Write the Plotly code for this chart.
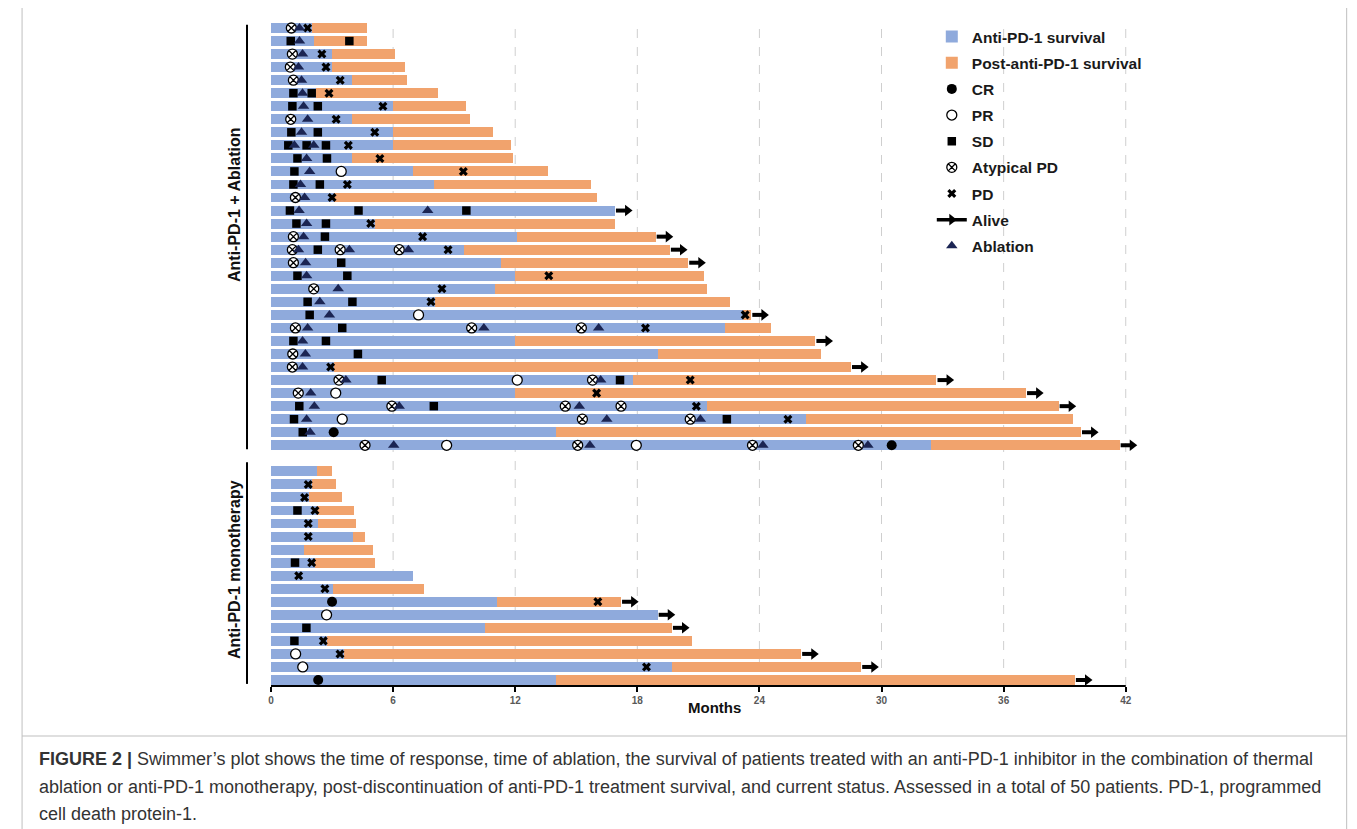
import plotly.graph_objects as go

# ---------------- data ----------------
# Anti-PD-1 + Ablation group (A1..A33, top to bottom)
anti_a = [2.0, 2.1, 3.0, 3.0, 4.0, 2.2, 6.0, 4.0, 6.0, 6.0, 4.0, 7.0, 8.0, 3.1, 16.9, 5.1, 12.1,
          9.5, 11.3, 12.0, 11.0, 8.05, 23.2, 22.3, 12.0, 19.0, 3.1, 17.8, 12.0, 21.4, 26.3, 14.0, 32.45]
total_a = [4.7, 4.7, 6.1, 6.6, 6.7, 8.2, 9.6, 9.8, 10.9, 11.8, 11.9, 13.6, 15.7, 16.0, 16.9, 16.9, 18.9,
           19.6, 20.5, 21.3, 21.4, 22.55, 23.6, 24.55, 26.75, 27.05, 28.5, 32.7, 37.1, 38.7, 39.4, 39.8, 41.7]
alive_a = [0, 0, 0, 0, 0, 0, 0, 0, 0, 0, 0, 0, 0, 0, 1, 0, 1,
           1, 1, 0, 0, 0, 1, 0, 1, 0, 1, 1, 1, 1, 0, 1, 1]

# Anti-PD-1 monotherapy group (M1..M17, top to bottom)
anti_m = [2.24, 2.03, 1.85, 2.27, 2.3, 4.03, 1.62, 2.16, 7.0, 3.03, 11.1, 19.0, 10.5, 2.74, 3.59, 19.7, 14.0]
total_m = [3.0, 3.2, 3.5, 4.1, 4.2, 4.6, 5.0, 5.1, 7.0, 7.5, 17.2, 19.0, 19.7, 20.7, 26.05, 29.0, 39.5]
alive_m = [0, 0, 0, 0, 0, 0, 0, 0, 0, 0, 1, 1, 1, 0, 1, 1, 1]

# events: (patient, month)
CR = [("A32", 3.08), ("A33", 30.5), ("M11", 3.0), ("M17", 2.32)]
PR = [("A12", 3.45), ("A23", 7.25), ("A28", 12.1), ("A29", 3.18), ("A31", 3.5), ("A33", 8.63),
      ("A33", 17.95), ("M12", 2.73), ("M15", 1.21), ("M16", 1.56)]
SD = [("A2", 0.97), ("A2", 3.85), ("A6", 1.1), ("A6", 2.0), ("A7", 1.05), ("A7", 2.3), ("A9", 1.0),
      ("A9", 2.3), ("A10", 0.85), ("A10", 1.75), ("A10", 2.7), ("A11", 1.3), ("A11", 2.75), ("A12", 1.15),
      ("A13", 1.1), ("A13", 2.4), ("A15", 0.93), ("A15", 4.3), ("A15", 9.6), ("A16", 1.25), ("A16", 2.7),
      ("A17", 2.65), ("A18", 2.3), ("A19", 3.45), ("A20", 1.3), ("A20", 3.75), ("A22", 1.8), ("A22", 4.0),
      ("A23", 1.9), ("A24", 3.5), ("A25", 1.1), ("A25", 2.7), ("A26", 4.27), ("A28", 5.44), ("A28", 17.15),
      ("A30", 1.39), ("A30", 8.0), ("A31", 1.13), ("A31", 22.4), ("A32", 1.56),
      ("M4", 1.3), ("M8", 1.18), ("M13", 1.74), ("M14", 1.15)]
ATYP = [("A1", 1.0), ("A3", 1.05), ("A4", 0.95), ("A5", 1.1), ("A8", 0.97), ("A14", 1.2), ("A17", 1.1),
        ("A18", 1.05), ("A18", 3.4), ("A18", 6.3), ("A19", 1.1), ("A21", 2.1), ("A24", 1.2), ("A24", 9.86),
        ("A24", 15.25), ("A26", 1.07), ("A27", 1.05), ("A28", 3.34), ("A28", 15.8), ("A29", 1.34),
        ("A30", 5.94), ("A30", 14.46), ("A30", 17.2), ("A31", 15.3), ("A31", 20.6), ("A33", 4.62),
        ("A33", 15.07), ("A33", 23.66), ("A33", 28.86)]
PD = [("A1", 1.8), ("A3", 2.5), ("A4", 2.7), ("A5", 3.4), ("A6", 2.85), ("A7", 5.5), ("A8", 3.2),
      ("A9", 5.1), ("A10", 3.8), ("A11", 5.35), ("A12", 9.45), ("A13", 3.75), ("A14", 3.0), ("A16", 4.9),
      ("A17", 7.45), ("A18", 8.7), ("A20", 13.65), ("A21", 8.4), ("A22", 7.86), ("A23", 23.3),
      ("A24", 18.4), ("A27", 2.93), ("A28", 20.6), ("A29", 16.0), ("A30", 20.9), ("A31", 25.4),
      ("M2", 1.83), ("M3", 1.65), ("M4", 2.16), ("M5", 1.83), ("M6", 1.83), ("M8", 2.0), ("M9", 1.36),
      ("M10", 2.65), ("M11", 16.06), ("M14", 2.57), ("M15", 3.39), ("M16", 18.45)]
ABL = [("A1", 1.4), ("A2", 1.4), ("A3", 1.55), ("A4", 1.35), ("A5", 1.5), ("A6", 1.55), ("A7", 1.6),
       ("A8", 1.8), ("A9", 1.5), ("A10", 1.15), ("A10", 2.1), ("A11", 1.75), ("A12", 1.9), ("A13", 1.45),
       ("A14", 1.65), ("A15", 1.38), ("A15", 7.7), ("A16", 1.75), ("A17", 1.6), ("A18", 1.35), ("A18", 3.85),
       ("A18", 6.75), ("A19", 1.7), ("A20", 1.75), ("A21", 3.3), ("A22", 2.4), ("A23", 2.87), ("A24", 1.8),
       ("A24", 10.46), ("A24", 16.1), ("A25", 1.55), ("A26", 1.69), ("A27", 1.55), ("A28", 3.68),
       ("A28", 16.2), ("A29", 1.95), ("A30", 2.13), ("A30", 6.3), ("A30", 15.15), ("A31", 1.75),
       ("A31", 16.5), ("A31", 21.1), ("A32", 1.92), ("A33", 6.03), ("A33", 15.67), ("A33", 24.17),
       ("A33", 29.33)]

X_TICKS = [0, 6, 12, 18, 24, 30, 36, 42]
GROUP_LABELS = ["Anti-PD-1 + Ablation", "Anti-PD-1 monotherapy"]
CAPTION = [
    "<b>FIGURE 2 |</b> Swimmer\u2019s plot shows the time of response, time of ablation, the survival of patients treated with an anti-PD-1 inhibitor in the combination of thermal",
    "ablation or anti-PD-1 monotherapy, post-discontinuation of anti-PD-1 treatment survival, and current status. Assessed in a total of 50 patients. PD-1, programmed",
    "cell death protein-1.",
]

# ---------------- layout helpers ----------------
ids_a = [f"A{i+1}" for i in range(len(anti_a))]
ids_m = [f"M{i+1}" for i in range(len(anti_m))]
ypos = {}
for i, p in enumerate(ids_a):
    ypos[p] = i + 1
for i, p in enumerate(ids_m):
    ypos[p] = len(ids_a) + 2 + i  # one empty slot between groups

ids = ids_a + ids_m
anti = anti_a + anti_m
total = total_a + total_m
alive = alive_a + alive_m
ys = [ypos[p] for p in ids]

BLUE = "#8FAADC"
ORANGE = "#F1A36D"
NAVY = "#1B2553"
FONT = "Liberation Sans, Arial, sans-serif"
XMAX = X_TICKS[-1]
XPAD = 0.75  # room right of 42 so the last "alive" arrow is not clipped

fig = go.Figure()

fig.add_trace(go.Bar(orientation="h", y=ys, x=anti, base=[0] * len(anti), width=0.76,
                     marker=dict(color=BLUE, line=dict(width=0)), name="Anti-PD-1 survival",
                     legendgroup="a", legendrank=1))
fig.add_trace(go.Bar(orientation="h", y=ys, x=[t - a for t, a in zip(total, anti)], base=anti, width=0.76,
                     marker=dict(color=ORANGE, line=dict(width=0)), name="Post-anti-PD-1 survival",
                     legendgroup="b", legendrank=2))


def pts(ev):
    return [m for _, m in ev], [ypos[p] for p, _ in ev]


# Alive arrows
sx, sy, hx, hy = [], [], [], []
for y, t, al in zip(ys, total, alive):
    if al:
        sx += [t + 0.05, t + 0.55, None]
        sy += [y, y, None]
        hx.append(t + 0.62)
        hy.append(y)
fig.add_trace(go.Scatter(x=sx, y=sy, mode="lines", line=dict(color="black", width=4),
                         showlegend=False, hoverinfo="skip", cliponaxis=False))
fig.add_trace(go.Scatter(x=hx, y=hy, mode="markers", marker=dict(symbol="triangle-right", size=10, color="black"),
                         showlegend=False, hoverinfo="skip", cliponaxis=False))

x, y = pts(ATYP)
fig.add_trace(go.Scatter(x=x, y=y, mode="markers", name="Atypical PD", legendgroup="f", legendrank=6,
                         marker=dict(symbol="circle-x", size=10, color="white", line=dict(color="black", width=1.3))))
x, y = pts(PR)
fig.add_trace(go.Scatter(x=x, y=y, mode="markers", name="PR", legendgroup="d", legendrank=4,
                         marker=dict(symbol="circle", size=10, color="white", line=dict(color="black", width=1.3))))
x, y = pts(CR)
fig.add_trace(go.Scatter(x=x, y=y, mode="markers", name="CR", legendgroup="c", legendrank=3,
                         marker=dict(symbol="circle", size=10, color="black", line=dict(width=0))))
x, y = pts(SD)
fig.add_trace(go.Scatter(x=x, y=y, mode="markers", name="SD", legendgroup="e", legendrank=5,
                         marker=dict(symbol="square", size=8.5, color="black", line=dict(width=0))))
x, y = pts(PD)
fig.add_trace(go.Scatter(x=x, y=y, mode="markers", name="PD", legendgroup="g", legendrank=7,
                         marker=dict(symbol="x", size=8, color="black", line=dict(width=0))))
fig.add_trace(go.Scatter(x=[None], y=[None], mode="lines+markers", name="Alive", legendgroup="h", legendrank=8,
                         line=dict(color="black", width=3.5),
                         marker=dict(symbol="triangle-right", size=10, color="black")))
x, y = pts(ABL)
fig.add_trace(go.Scatter(x=x, y=y, mode="markers", name="Ablation", legendgroup="i", legendrank=9,
                         marker=dict(symbol="triangle-up", size=10, color=NAVY, line=dict(width=0))))

# ---------------- geometry (screen px -> paper) ----------------
OFF = 8  # page body margin
W, H = 1357, 829
PX_PER_MONTH = 855 / 42
L, T = 271 - OFF, 21 - OFF
pw, ph = PX_PER_MONTH * (XMAX + XPAD), 665
R, B = W - L - pw, H - T - ph


def px(xs):
    return (xs - OFF - L) / pw


def py(ys_):
    return (T + ph - (ys_ - OFF)) / ph


shapes = []
for t in X_TICKS[1:]:
    shapes.append(dict(type="line", xref="x", yref="paper", x0=t, x1=t, y0=0, y1=1, layer="below",
                       line=dict(color="#CFCFCF", width=1, dash="dash")))
# x axis line (0..42)
shapes.append(dict(type="line", xref="x", yref="paper", x0=0, x1=XMAX, y0=0, y1=0,
                   line=dict(color="black", width=2)))
# group bracket lines
n_a = len(ids_a)
shapes.append(dict(type="line", xref="paper", yref="y", x0=px(247), x1=px(247), y0=0.75, y1=n_a + 0.3,
                   line=dict(color="black", width=2)))
shapes.append(dict(type="line", xref="paper", yref="y", x0=px(247), x1=px(247), y0=n_a + 1.3,
                   y1=ypos[ids_m[-1]] + 0.3, line=dict(color="black", width=2)))
# frame
shapes.append(dict(type="line", xref="paper", yref="paper", x0=px(22), x1=px(22), y0=py(0), y1=py(829),
                   line=dict(color="#BFBFBF", width=1)))
shapes.append(dict(type="line", xref="paper", yref="paper", x0=px(1347), x1=px(1347), y0=py(0), y1=py(829),
                   line=dict(color="#BFBFBF", width=1)))
shapes.append(dict(type="line", xref="paper", yref="paper", x0=px(22), x1=px(1347), y0=py(736), y1=py(736),
                   line=dict(color="#BFBFBF", width=1)))

annotations = [
    dict(text=f"<b>{GROUP_LABELS[0]}</b>", xref="paper", yref="paper", x=px(234), y=py(205),
         xanchor="center", yanchor="middle",
         textangle=-90, showarrow=False, font=dict(family=FONT, size=16, color="#111111")),
    dict(text=f"<b>{GROUP_LABELS[1]}</b>", xref="paper", yref="paper", x=px(234), y=py(570),
         xanchor="center", yanchor="middle",
         textangle=-90, showarrow=False, font=dict(family=FONT, size=16, color="#111111")),
    dict(text="<b>Months</b>", xref="paper", yref="paper", x=px(715), y=py(707), showarrow=False,
         xanchor="center", yanchor="middle",
         font=dict(family=FONT, size=15, color="#111111")),
]
for line, yy in zip(CAPTION, [759, 787, 814]):
    annotations.append(dict(text=line, xref="paper", yref="paper", x=px(37), y=py(yy), xanchor="left",
                            yanchor="middle", showarrow=False, align="left",
                            font=dict(family=FONT, size=18, color="#333333")))

fig.update_layout(
    width=W, height=H, margin=dict(l=L, r=R, t=T, b=B),
    paper_bgcolor="white", plot_bgcolor="white",
    barmode="overlay", bargap=0,
    font=dict(family=FONT),
    xaxis=dict(range=[0, XMAX + XPAD], tickvals=X_TICKS, ticktext=[str(v) for v in X_TICKS], showgrid=False,
               zeroline=False, showline=False, ticks="outside",
               ticklen=5, tickwidth=1.5, tickcolor="black",
               tickfont=dict(family=FONT, size=10, color="#595959", weight="bold")),
    yaxis=dict(range=[ypos[ids_m[-1]] + 0.46, 0.463], showticklabels=False, showgrid=False,
               zeroline=False, showline=False, ticks=""),
    legend=dict(x=px(932), y=py(20), xanchor="left", yanchor="top", traceorder="grouped",
                tracegroupgap=3, bgcolor="rgba(0,0,0,0)",
                font=dict(family=FONT, size=15.5, color="#1a1a1a", weight="bold")),
    shapes=shapes, annotations=annotations,
)

fig.write_html("out.html")
